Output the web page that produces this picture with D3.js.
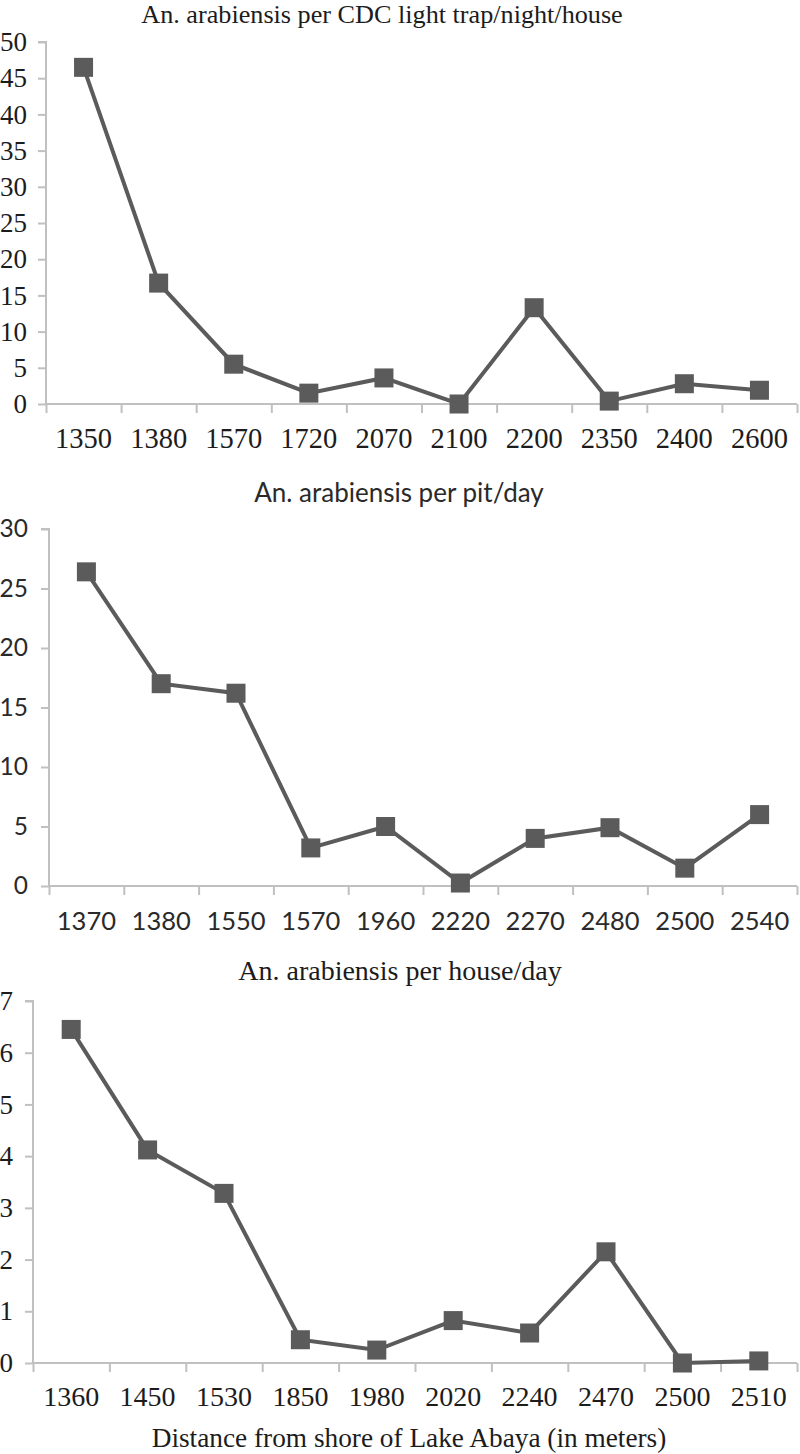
<!DOCTYPE html>
<html><head><meta charset="utf-8">
<script src="https://cdn.jsdelivr.net/npm/d3@7/dist/d3.min.js"></script>
<style>body{margin:0;background:#fff}svg{display:block}
.serif text, text.serif{font-family:"Liberation Serif","Times New Roman",Times,"DejaVu Serif",serif}
.sans text, text.sans{font-family:Lato,"Open Sans",sans-serif}
</style>
</head><body>
<script>
// ---- data ----
const cdcCategories = ["1350","1380","1570","1720","2070","2100","2200","2350","2400","2600"];
const cdcValues     = [46.5, 16.7, 5.5, 1.5, 3.6, 0.0, 13.3, 0.4, 2.8, 1.9];
const cdcYTicks     = [0,5,10,15,20,25,30,35,40,45,50];

const pitCategories = ["1370","1380","1550","1570","1960","2220","2270","2480","2500","2540"];
const pitValues     = [26.4, 17.0, 16.2, 3.2, 5.0, 0.25, 4.0, 4.9, 1.5, 6.0];
const pitYTicks     = [0,5,10,15,20,25,30];

const houseCategories = ["1360","1450","1530","1850","1980","2020","2240","2470","2500","2510"];
const houseValues     = [6.45, 4.12, 3.28, 0.45, 0.25, 0.82, 0.58, 2.15, 0.0, 0.04];
const houseYTicks     = [0,1,2,3,4,5,6,7];

const titles = ["An. arabiensis per CDC light trap/night/house","An. arabiensis per pit/day","An. arabiensis per house/day"];
const xAxisTitle = "Distance from shore of Lake Abaya (in meters)";

const W = 800, H = 1454;
const LINE = "#5b5b5b", AXIS = "#c0c0c0";

const svg = d3.select("body").append("svg").attr("width", W).attr("height", H);

function panel(cfg){
  const g = svg.append("g").attr("class", cfg.cls);
  const x = d3.scaleBand().domain(cfg.cats).range([cfg.x0, cfg.x1]).padding(0);
  const xi = d3.scaleLinear().domain([0, cfg.cats.length]).range([cfg.x0, cfg.x1]);
  const y = d3.scaleLinear().domain([0, d3.max(cfg.yTicks)]).range([cfg.yBottom, cfg.yTop]);

  // y axis
  const ya = g.append("g").attr("transform", `translate(${cfg.x0},0)`)
    .call(d3.axisLeft(y).tickValues(cfg.yTicks).tickFormat(d3.format("d")).tickSize(8).tickPadding(cfg.yPad));
  ya.attr("font-family", null);
  ya.select(".domain").attr("stroke", AXIS).attr("stroke-width", 2).attr("d", `M-8,${cfg.yTop}H0V${cfg.yBottom}`);
  ya.selectAll(".tick line").attr("stroke", AXIS).attr("stroke-width", 2);
  ya.selectAll(".tick text").attr("font-size", cfg.yfs).attr("fill", cfg.txt);

  // x axis tick marks at band boundaries
  const xt = g.append("g").attr("transform", `translate(0,${cfg.yBottom})`)
    .call(d3.axisBottom(xi).tickValues(d3.range(cfg.cats.length+1)).tickSize(9).tickFormat(""));
  xt.select(".domain").attr("stroke", AXIS).attr("stroke-width", 2).attr("d", `M${cfg.x0},0H${cfg.x1}`);
  xt.selectAll(".tick line").attr("stroke", AXIS).attr("stroke-width", 2);

  // x labels at band centers
  const xl = g.append("g").attr("transform", `translate(0,${cfg.yBottom})`)
    .call(d3.axisBottom(x).tickSize(0).tickPadding(cfg.xPad));
  xl.attr("font-family", null);
  xl.select(".domain").remove();
  xl.selectAll(".tick text").attr("font-size", cfg.fs).attr("fill", cfg.txt);

  // title
  g.append("text").attr("x", cfg.titleX).attr("y", cfg.titleY).attr("text-anchor","middle")
    .attr("font-size", cfg.tfs).attr("fill", cfg.txt).text(cfg.title);

  // line
  const cx = d => x(d.c) + x.bandwidth()/2;
  const data = cfg.cats.map((c,i)=>({c, v: cfg.vals[i]}));
  g.append("path").datum(data).attr("fill","none").attr("stroke", LINE).attr("stroke-width", 4)
    .attr("d", d3.line().x(cx).y(d=>y(d.v)));
  const s = 19;
  g.selectAll("rect.m").data(data).join("rect").attr("class","m")
    .attr("x", d=>cx(d)-s/2).attr("y", d=>y(d.v)-s/2).attr("width", s).attr("height", s)
    .attr("fill", LINE);
}

panel({cls:"serif", cats: cdcCategories, vals: cdcValues, yTicks: cdcYTicks, x0: 46, x1: 797, yTop: 42, yBottom: 404,
  fs: 28.5, yfs: 27, tfs: 26.2, txt: "#1c1c1c", yPad: 11, xPad: 24, title: titles[0], titleX: 382, titleY: 23});
panel({cls:"sans", cats: pitCategories, vals: pitValues, yTicks: pitYTicks, x0: 49, x1: 797, yTop: 529, yBottom: 886,
  fs: 25.5, yfs: 24.5, tfs: 26, txt: "#2a2a2a", yPad: 13, xPad: 26, title: titles[1], titleX: 399, titleY: 502});
panel({cls:"serif", cats: houseCategories, vals: houseValues, yTicks: houseYTicks, x0: 33, x1: 797, yTop: 1001, yBottom: 1363,
  fs: 28, yfs: 27, tfs: 28, txt: "#1c1c1c", yPad: 12, xPad: 23, title: titles[2], titleX: 400, titleY: 980});

svg.append("text").attr("class","serif").attr("x", 409).attr("y", 1447).attr("text-anchor","middle")
  .attr("font-size", 27.3).attr("fill","#1c1c1c").text(xAxisTitle);
</script>
</body></html>
